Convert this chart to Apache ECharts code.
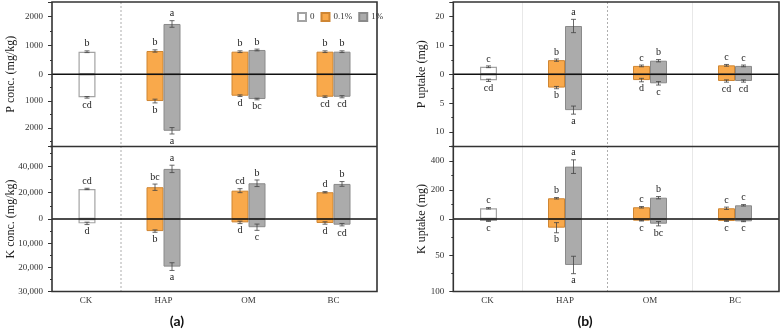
<!DOCTYPE html>
<html><head><meta charset="utf-8">
<script src="https://cdn.jsdelivr.net/npm/echarts@6/dist/echarts.min.js"></script>
<style>html,body{margin:0;padding:0;background:#fff}#c{width:782px;height:334px}</style>
</head><body><div id="c"></div>
<script>
const categories = ['CK', 'HAP', 'OM', 'BC'];
const seriesNames = ['0', '0.1%', '1%'];
// rows: [0, 0.1%, 1%]; columns: categories
// (a) P conc. (mg/kg) — upper half
const pConcUpVal = [[780, null, null, null], [null, 806, 782, 782], [null, 1740, 841, 782]];
const pConcUpErr = [[30, null, null, null], [null, 40, 30, 30], [null, 114, 30, 30]];
const pConcUpLet = [['b', '', '', ''], ['', 'b', 'b', 'b'], ['', 'a', 'b', 'b']];
// (a) P conc. — lower half
const pConcDnVal = [[861, null, null, null], [null, 1000, 801, 839], [null, 2112, 925, 839]];
const pConcDnErr = [[30, null, null, null], [null, 70, 30, 30], [null, 120, 30, 40]];
const pConcDnLet = [['cd', '', '', ''], ['', 'b', 'd', 'cd'], ['', 'a', 'bc', 'cd']];
// (a) K conc. (mg/kg) — upper half
const kConcUpVal = [[22800, null, null, null], [null, 24100, 21500, 20300], [null, 38000, 27100, 26600]];
const kConcUpErr = [[500, null, null, null], [null, 2400, 1500, 500], [null, 2800, 2500, 1800]];
const kConcUpLet = [['cd', '', '', ''], ['', 'bc', 'cd', 'd'], ['', 'a', 'b', 'b']];
// (a) K conc. — lower half
const kConcDnVal = [[1800, null, null, null], [null, 5000, 1400, 1650], [null, 19700, 3400, 2350]];
const kConcDnErr = [[500, null, null, null], [null, 500, 500, 500], [null, 1600, 1300, 500]];
const kConcDnLet = [['d', '', '', ''], ['', 'b', 'd', 'd'], ['', 'a', 'c', 'cd']];
// (b) P uptake (mg) — upper half
const pUptUpVal = [[2.6, null, null, null], [null, 4.9, 2.9, 3.1], [null, 16.7, 4.7, 2.9]];
const pUptUpErr = [[0.3, null, null, null], [null, 0.4, 0.3, 0.3], [null, 2.3, 0.4, 0.3]];
const pUptUpLet = [['c', '', '', ''], ['', 'b', 'c', 'c'], ['', 'a', 'b', 'c']];
// (b) P uptake — lower half
const pUptDnVal = [[1.04, null, null, null], [null, 2.3, 1.0, 1.16], [null, 6.2, 1.56, 1.16]];
const pUptDnErr = [[0.2, null, null, null], [null, 0.2, 0.3, 0.2], [null, 0.7, 0.3, 0.2]];
const pUptDnLet = [['cd', '', '', ''], ['', 'b', 'd', 'cd'], ['', 'a', 'c', 'cd']];
// (b) K uptake (mg) — upper half
const kUptUpVal = [[74, null, null, null], [null, 143, 81, 74], [null, 361, 147, 94.5]];
const kUptUpErr = [[5, null, null, null], [null, 5, 5, 8], [null, 47, 8, 5]];
const kUptUpLet = [['c', '', '', ''], ['', 'b', 'c', 'c'], ['', 'a', 'b', 'c']];
// (b) K uptake — lower half
const kUptDnVal = [[2.8, null, null, null], [null, 12, 2.3, 2.8], [null, 63.4, 6.5, 3.2]];
const kUptDnErr = [[0.5, null, null, null], [null, 7, 0.5, 0.5], [null, 12, 3, 0.5]];
const kUptDnLet = [['c', '', '', ''], ['', 'b', 'c', 'c'], ['', 'a', 'bc', 'c']];
// axis scales [max, major step] per half
const pConcUpAxis = [2500, 1000], pConcDnAxis = [2700, 1000];
const kConcUpAxis = [55000, 20000], kConcDnAxis = [30000, 10000];
const pUptUpAxis = [25, 10], pUptDnAxis = [12.5, 5];
const kUptUpAxis = [500, 200], kUptDnAxis = [100, 50];
const yNames = ['P conc. (mg/kg)', 'K conc. (mg/kg)', 'P uptake (mg)', 'K uptake (mg)'];
const panelLabels = ['(a)', '(b)'];

// ---- layout & style ----
const SERIF = '"Liberation Serif", "DejaVu Serif", serif';
const PANELS = [{gl: 36, fl: 52, fr: 377, nameX: 11, labX: 177}, {gl: 437.5, fl: 453.3, fr: 779, nameX: 422, labX: 585}];
const ROWS = [{top: 2, h: 72.3}, {top: 74.3, h: 72.2}, {top: 146.5, h: 72.5}, {top: 219, h: 72.5}];
const GRID_W = 340, BAR_W = 17;
const STYLES = [
  {color: '#ffffff', borderColor: '#a3a3a3', borderWidth: 1.2},
  {color: '#F9A94B', borderColor: '#CF8633', borderWidth: 1},
  {color: '#ABABAB', borderColor: '#8a8a8a', borderWidth: 1}
];
const halves = [
  [pConcUpVal, pConcUpErr, pConcUpLet, pConcUpAxis], [pConcDnVal, pConcDnErr, pConcDnLet, pConcDnAxis],
  [kConcUpVal, kConcUpErr, kConcUpLet, kConcUpAxis], [kConcDnVal, kConcDnErr, kConcDnLet, kConcDnAxis],
  [pUptUpVal, pUptUpErr, pUptUpLet, pUptUpAxis], [pUptDnVal, pUptDnErr, pUptDnLet, pUptDnAxis],
  [kUptUpVal, kUptUpErr, kUptUpLet, kUptUpAxis], [kUptDnVal, kUptDnErr, kUptDnLet, kUptDnAxis]
];

const grid = [], xAxis = [], yAxis = [], series = [];
function fmtNum(v) { return Math.abs(v) >= 10000 ? v.toLocaleString('en-US') : String(v); }

function errSeries(g, vals, errs, lets, slot, down) {
  const data = [], labels = [];
  vals.forEach((v, i) => { if (v != null) { data.push([i, v, errs[i]]); labels.push(lets[i]); } });
  return {
    type: 'custom', xAxisIndex: g, yAxisIndex: 2 * g, data, silent: true, z: 6,
    renderItem(params, api) {
      const c = api.value(0), v = api.value(1), e = api.value(2);
      const x = api.coord([c, v])[0] + slot * BAR_W / 2;
      const yHi = api.coord([c, v + e])[1], yLo = api.coord([c, Math.max(0, v - e)])[1];
      const cap = 2.5, st = {stroke: '#444', lineWidth: 0.8};
      return {type: 'group', children: [
        {type: 'line', shape: {x1: x, y1: yHi, x2: x, y2: yLo}, style: st},
        {type: 'line', shape: {x1: x - cap, y1: yHi, x2: x + cap, y2: yHi}, style: st},
        {type: 'line', shape: {x1: x - cap, y1: yLo, x2: x + cap, y2: yLo}, style: st},
        {type: 'text', x: x, y: down ? yHi + 2 : yHi - 2,
         style: {text: labels[params.dataIndex], align: 'center', verticalAlign: down ? 'top' : 'bottom',
                 font: '10px ' + SERIF, fill: '#222'}}
      ]};
    }
  };
}

halves.forEach((h, g) => {
  const [vals, errs, lets, ax] = h;
  const p = PANELS[g >> 2], r = g % 4, down = (r % 2 === 1);
  grid.push({left: p.gl, width: GRID_W, top: ROWS[r].top, height: ROWS[r].h});
  xAxis.push({
    type: 'category', gridIndex: g, data: categories, position: 'bottom',
    axisLine: {show: false}, axisTick: {show: false}, splitLine: {show: false},
    axisLabel: {show: r === 3, margin: 5, fontSize: 9, fontFamily: SERIF, color: '#333',
      formatter: v => v === 'CK' ? '{s|CK}' : v,
      rich: {s: {padding: [0, 0, 0, 15], fontSize: 9, fontFamily: SERIF, color: '#333'}}}
  });
  const step = ax[1];
  const common = {type: 'value', gridIndex: g, position: 'left', min: 0, max: ax[0], inverse: down,
    offset: -(p.fl - p.gl), axisLine: {show: false}, splitLine: {show: false}};
  yAxis.push(Object.assign({}, common, {
    interval: step,
    axisTick: {show: true, length: 4, lineStyle: {color: '#333', width: 1}},
    axisLabel: {margin: 9, fontSize: 9, fontFamily: SERIF, color: '#333',
      formatter: v => (Math.abs(v / step - Math.round(v / step)) < 1e-9 && !(down && v === 0)) ? fmtNum(v) : ''}
  }));
  yAxis.push(Object.assign({}, common, {
    interval: step / 2,
    axisTick: {show: true, length: 2, lineStyle: {color: '#333', width: 1}},
    axisLabel: {show: false}
  }));
  // bars: 0.1% left slot; 0 and 1% share right slot via stack
  const order = [1, 0, 2];
  order.forEach(k => {
    const s = {type: 'bar', name: seriesNames[k], xAxisIndex: g, yAxisIndex: 2 * g,
      data: vals[k].map(v => v == null ? '-' : v), barWidth: BAR_W, barGap: '0%',
      itemStyle: STYLES[k], z: 3, silent: true};
    if (k !== 1) s.stack = 'right' + g;
    series.push(s);
  });
  series.push(errSeries(g, vals[1], errs[1], lets[1], -1, down));
  series.push(errSeries(g, vals[0], errs[0], lets[0], 1, down));
  series.push(errSeries(g, vals[2], errs[2], lets[2], 1, down));
});

const chart = echarts.init(document.getElementById('c'), null, {renderer: 'canvas'});
chart.setOption({
  animation: false,
  backgroundColor: '#fff',
  legend: {data: seriesNames, left: 292, top: 7, itemWidth: 8, itemHeight: 8, itemGap: 6,
    icon: 'rect', textStyle: {fontSize: 9, fontFamily: SERIF, color: '#333', padding: [0, 0, 0, -1]},
    selectedMode: false},
  grid, xAxis, yAxis, series
});

// decorations computed from the axes
const gfx = [];
const TOP = ROWS[0].top, MID = ROWS[2].top, BOT = ROWS[3].top + ROWS[3].h;
[0, 1].forEach(pi => {
  const p = PANELS[pi], g0 = pi * 4;
  const cx = categories.map(c => chart.convertToPixel({xAxisIndex: g0}, c));
  const bounds = [0, 1, 2].map(i => (cx[i] + cx[i + 1]) / 2);
  const sepStyles = pi === 0
    ? [{stroke: '#9a9a9a', lineWidth: 0.8, lineDash: [2, 2]}, null, null]
    : [{stroke: '#e2e2e2', lineWidth: 0.8}, {stroke: '#9a9a9a', lineWidth: 0.8, lineDash: [2, 2]}, {stroke: '#e2e2e2', lineWidth: 0.8}];
  bounds.forEach((bx, i) => {
    if (sepStyles[i]) gfx.push({type: 'line', z: 1, silent: true, shape: {x1: bx, y1: TOP, x2: bx, y2: BOT}, style: sepStyles[i]});
  });
  [0, 2].forEach(r => {
    const zy = chart.convertToPixel({yAxisIndex: 2 * (g0 + r)}, 0);
    gfx.push({type: 'line', z: 10, silent: true, shape: {x1: p.fl, y1: zy, x2: p.fr, y2: zy}, style: {stroke: '#111', lineWidth: 1.4}});
  });
  gfx.push({type: 'rect', z: 11, silent: true, shape: {x: p.fl, y: TOP, width: p.fr - p.fl, height: BOT - TOP},
    style: {fill: null, stroke: '#333', lineWidth: 1.6}});
  gfx.push({type: 'line', z: 11, silent: true, shape: {x1: p.fl - 2, y1: MID, x2: p.fr, y2: MID}, style: {stroke: '#333', lineWidth: 1.6}});
  [0, 1].forEach(s => {
    const cy = s === 0 ? (TOP + MID) / 2 : (MID + BOT) / 2;
    gfx.push({type: 'text', z: 11, silent: true, x: p.nameX, y: cy, rotation: Math.PI / 2,
      style: {text: yNames[pi * 2 + s], align: 'center', verticalAlign: 'middle', font: '12px ' + SERIF, fill: '#222'}});
  });
  gfx.push({type: 'text', z: 11, silent: true, x: p.labX, y: 321,
    style: {text: panelLabels[pi], align: 'center', verticalAlign: 'middle', font: 'bold 14px Lato, "Liberation Sans", sans-serif', fill: '#111'}});
});
chart.setOption({graphic: {elements: gfx}});
</script></body></html>
